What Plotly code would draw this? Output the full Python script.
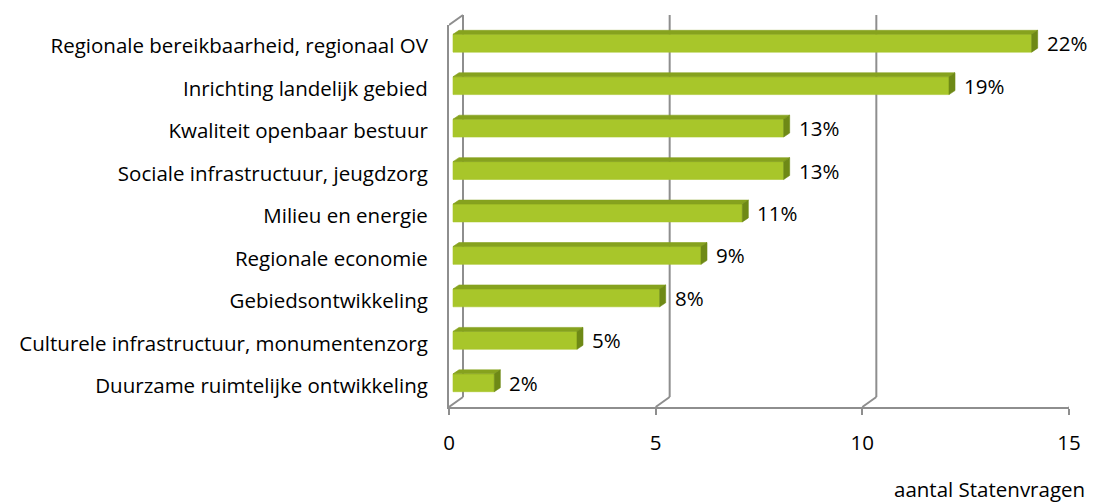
import plotly.graph_objects as go

categories = [
    "Regionale bereikbaarheid, regionaal OV",
    "Inrichting landelijk gebied",
    "Kwaliteit openbaar bestuur",
    "Sociale infrastructuur, jeugdzorg",
    "Milieu en energie",
    "Regionale economie",
    "Gebiedsontwikkeling",
    "Culturele infrastructuur, monumentenzorg",
    "Duurzame ruimtelijke ontwikkeling",
]
values = [14, 12, 8, 8, 7, 6, 5, 3, 1]
pct_labels = ["22%", "19%", "13%", "13%", "11%", "9%", "8%", "5%", "2%"]
x_ticks = [0, 5, 10, 15]
x_title = "aantal Statenvragen"

W, H = 1095, 504
ML, MR, MT, MB = 449, 26, 25, 97
XMAX = 15
n = len(categories)
pw = W - ML - MR
ph = H - MT - MB
px_x = pw / XMAX          # pixels per x unit
px_y = ph / n             # pixels per category

# 3D geometry (pixels -> data units)
off_x = 4 / px_x
off_y = -3 / px_y
dep_x = 6 / px_x
dep_y = -4 / px_y
half = 0.21
wall_dx, wall_dy = 14, 10

FONT = "Open Sans"
FS = 20.5
GRID = "#8E8E8E"
FRONT = "#A8C62A"
TOP = "#86A21E"
SIDE = "#6E8916"

fx, fy, tx, ty, sx, sy = [], [], [], [], [], []
for i, v in enumerate(values):
    x0 = off_x
    x1 = off_x + v
    yt = i - half + off_y
    yb = i + half + off_y
    fx += [x0, x1, x1, x0, x0, None]
    fy += [yt, yt, yb, yb, yt, None]
    tx += [x0, x1, x1 + dep_x, x0 + dep_x, x0, None]
    ty += [yt, yt, yt + dep_y, yt + dep_y, yt, None]
    sx += [x1, x1 + dep_x, x1 + dep_x, x1, x1, None]
    sy += [yt, yt + dep_y, yb + dep_y, yb, yt, None]

fig = go.Figure()
for xs, ys, col in [(fx, fy, FRONT), (tx, ty, TOP), (sx, sy, SIDE)]:
    fig.add_trace(go.Scatter(x=xs, y=ys, mode="lines", fill="toself",
                             fillcolor=col, line=dict(width=0.6, color=col),
                             hoverinfo="skip", showlegend=False))

shapes = []
wy = wall_dy / ph
for t in x_ticks:
    shapes.append(dict(type="line", xref="x", xsizemode="pixel", xanchor=t,
                       x0=wall_dx, x1=wall_dx, yref="paper", y0=wy, y1=1 + wy,
                       line=dict(color=GRID, width=2), layer="below"))
    shapes.append(dict(type="line", xref="x", xsizemode="pixel", xanchor=t,
                       x0=0, x1=wall_dx, yref="paper", y0=0, y1=wy,
                       line=dict(color=GRID, width=2), layer="below"))
shapes.append(dict(type="line", xref="x", xsizemode="pixel", xanchor=0,
                   x0=0, x1=wall_dx, yref="paper", y0=1, y1=1 + wy,
                   line=dict(color=GRID, width=2), layer="below"))
for k in range(n + 1):
    shapes.append(dict(type="line", xref="x", xsizemode="pixel", xanchor=0,
                       x0=-6, x1=0, yref="y", y0=k - 0.5, y1=k - 0.5,
                       line=dict(color=GRID, width=2)))

annotations = []
for i, (v, lab) in enumerate(zip(values, pct_labels)):
    annotations.append(dict(x=off_x + v + dep_x, y=i + off_y, text=lab,
                            xref="x", yref="y", xanchor="left", yanchor="middle",
                            xshift=7, showarrow=False,
                            font=dict(family=FONT, size=FS, color="#000")))
annotations.append(dict(x=1.0, y=-(489 - (H - MB)) / ph, xref="paper", yref="paper",
                        text=x_title, showarrow=False, xanchor="center",
                        yanchor="middle", xshift=-80,
                        font=dict(family=FONT, size=FS, color="#000")))

fig.update_layout(
    width=W, height=H,
    margin=dict(l=ML, r=MR, t=MT, b=MB, autoexpand=False),
    paper_bgcolor="white", plot_bgcolor="white",
    shapes=shapes, annotations=annotations,
    xaxis=dict(range=[0, XMAX], tickvals=x_ticks, showgrid=False, zeroline=False,
               showline=True, linecolor=GRID, linewidth=2, ticks="outside",
               ticklen=6, tickwidth=2, tickcolor=GRID, ticklabelstandoff=10,
               tickfont=dict(family=FONT, size=FS, color="#000"), automargin=False),
    yaxis=dict(range=[n - 0.5, -0.5], tickvals=list(range(n)), ticktext=categories,
               showgrid=False, zeroline=False, showline=True, linecolor=GRID,
               linewidth=2, ticks="", ticklabelstandoff=15, automargin=False,
               tickfont=dict(family=FONT, size=FS, color="#000")),
)

fig.write_html("out.html", config={"displayModeBar": False},
               post_script="document.body.style.margin='0';")
